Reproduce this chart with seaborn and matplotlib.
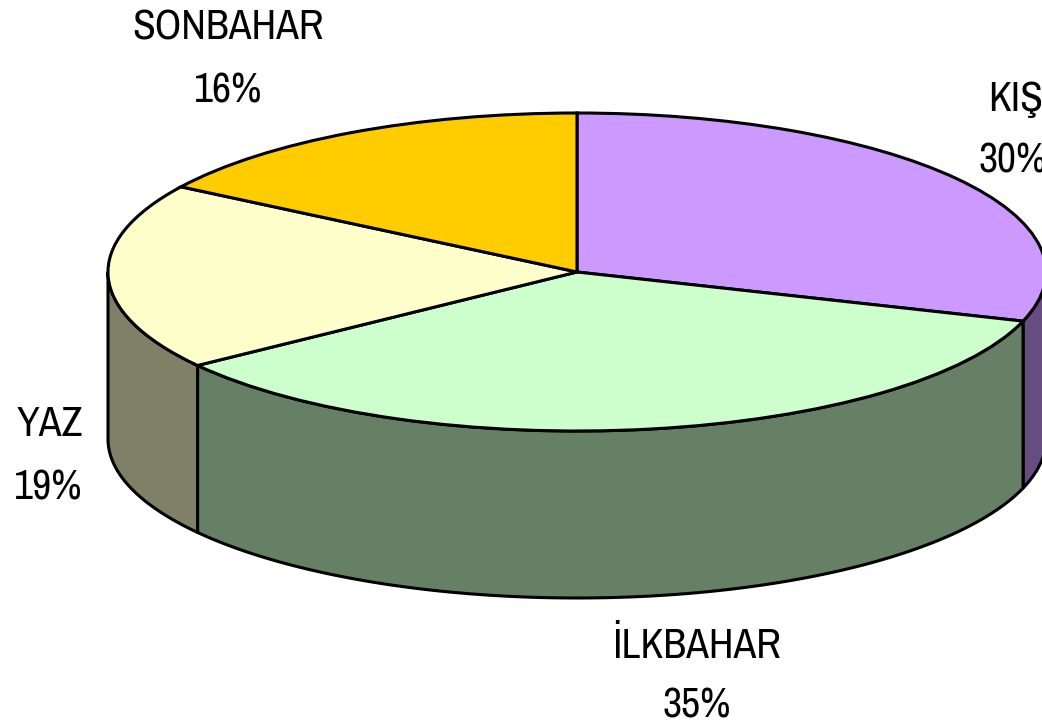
import numpy as np
import matplotlib
matplotlib.use('Agg')
import matplotlib.pyplot as plt
import seaborn as sns

# Values
seasons = ['KIŞ', 'İLKBAHAR', 'YAZ', 'SONBAHAR']
shares = [30, 35, 19, 16]
percent_labels = ['30%', '35%', '19%', '16%']
top_colors = ['#CC99FF', '#CCFFCC', '#FFFFCC', '#FFCC00']

sns.set_theme(style='white')
plt.rcParams['font.family'] = ['Archivo Narrow', 'Liberation Sans Narrow', 'Liberation Sans', 'DejaVu Sans']

W, H = 1042, 725
CX, CY = 577, 272   # centre of the top ellipse, pixels
RX, RY = 469, 159   # radii of the ellipse, pixels
DEPTH = 167 / RY    # height of the cylinder in y units

fig = plt.figure(figsize=(W / 100, H / 100), dpi=100)
ax = fig.add_axes([0, 0, 1, 1])

palette = sns.color_palette(top_colors)
side_colors = [tuple(c * 0.5 for c in col) for col in palette]

# Walls: only the part of each slice on the lower half of the ellipse is seen
edges = 90 - np.cumsum([0] + shares) * 3.6
for i in range(len(shares)):
    start, end = edges[i], edges[i + 1]
    # lower half runs from 0 to -180 degrees, also check the wrapped range
    for shift in (0, 360):
        a = min(start + shift, 0)
        b = max(end + shift, -180)
        if a <= b:
            continue
        t = np.radians(np.linspace(a, b, 100))
        x = np.cos(t)
        y = np.sin(t)
        ax.fill(np.r_[x, x[::-1]], np.r_[y, y[::-1] - DEPTH],
                facecolor=side_colors[i], edgecolor='black', linewidth=2.2,
                joinstyle='round', zorder=1)

# Top of the pie
ax.pie(shares, colors=palette, startangle=90, counterclock=False, radius=1,
       wedgeprops={'edgecolor': 'black', 'linewidth': 2.2, 'zorder': 2})
ax.set_aspect('auto')
ax.set_xlim(-CX / RX, (W - CX) / RX)
ax.set_ylim(-(H - CY) / RY, CY / RY)
ax.axis('off')

# Label positions in pixels: name (x, y), percent (x, y), anchor
label_pos = {
    'KIŞ': ((988, 96), (978, 157), 'left'),
    'İLKBAHAR': ((697, 642), (697, 702), 'center'),
    'YAZ': ((50, 420), (48, 484), 'center'),
    'SONBAHAR': ((228, 24), (228, 87), 'center'),
}
for name, pct in zip(seasons, percent_labels):
    p1, p2, ha = label_pos[name]
    for txt, (px, py) in ((name, p1), (pct, p2)):
        fig.text(px / W, 1 - py / H, txt, fontsize=30, color='black', ha=ha,
                 va='center_baseline')

fig.savefig('out.png', dpi=100, facecolor='white')
